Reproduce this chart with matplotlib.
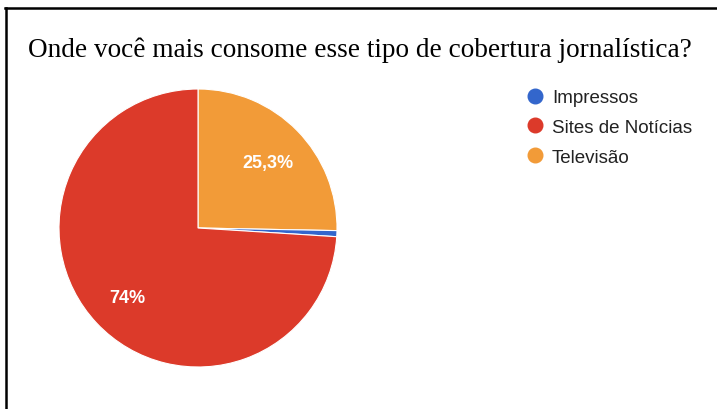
import matplotlib

matplotlib.use("Agg")
import matplotlib.pyplot as plt
import numpy as np
from matplotlib.lines import Line2D

TITLE = "Onde você mais consome esse tipo de cobertura jornalística?"
LABELS = ["Impressos", "Sites de Notícias", "Televisão"]
VALUES = [0.7, 74.0, 25.3]
PCT_TEXT = ["", "74%", "25,3%"]
COLORS = ["#3366CC", "#DC3A2A", "#F29B38"]
# clockwise from 12 o'clock as drawn in the original
DRAW_ORDER = [2, 0, 1]

W, H = 717, 410
fig = plt.figure(figsize=(W / 100, H / 100), dpi=100)
fig.patch.set_facecolor("white")

# pie centre (198, 229) px, radius 139 px
cx, cy, r = 198, 229, 139
ax = fig.add_axes([(cx - r) / W, (H - cy - r) / H, 2 * r / W, 2 * r / H])

vals = [VALUES[i] for i in DRAW_ORDER]
cols = [COLORS[i] for i in DRAW_ORDER]
txts = [PCT_TEXT[i] for i in DRAW_ORDER]
wedges, _ = ax.pie(
    vals,
    colors=cols,
    startangle=90,
    counterclock=False,
    radius=1,
    wedgeprops={"edgecolor": "white", "linewidth": 0.8},
)
for w, t in zip(wedges, txts):
    if not t:
        continue
    rad = np.deg2rad((w.theta1 + w.theta2) / 2)
    d = 0.7
    ax.text(d * np.cos(rad), d * np.sin(rad) - 0.02, t, ha="center", va="center",
            color="white", fontsize=13, fontweight="bold", family="Liberation Sans")
ax.set_xlim(-1, 1)
ax.set_ylim(-1, 1)
ax.set_aspect("equal")
ax.axis("off")

fig.text(28 / W, 1 - 57 / H, TITLE, ha="left", va="baseline",
         family="Liberation Serif", fontsize=19.6, color="black")

handles = [Line2D([], [], marker="o", linestyle="none", markersize=10.5,
                  markerfacecolor=c, markeredgecolor=c) for c in COLORS]
fig.legend(handles, LABELS, loc="upper left", bbox_to_anchor=(524 / W, 1 - 90 / H),
           frameon=False, handletextpad=0.3, labelspacing=0.68,
           prop={"family": "Liberation Sans", "size": 13.5}, labelcolor="#222222",
           handlelength=1.2, borderaxespad=0, borderpad=0)

# frame around the screenshot
fig.add_artist(Line2D([5.5 / W, 5.5 / W], [0, 1 - 8.5 / H], color="black", lw=1.8,
                      transform=fig.transFigure))
fig.add_artist(Line2D([4.6 / W, 1], [1 - 8.5 / H, 1 - 8.5 / H], color="black", lw=1.8,
                      transform=fig.transFigure))

fig.savefig("out.png", dpi=100)
